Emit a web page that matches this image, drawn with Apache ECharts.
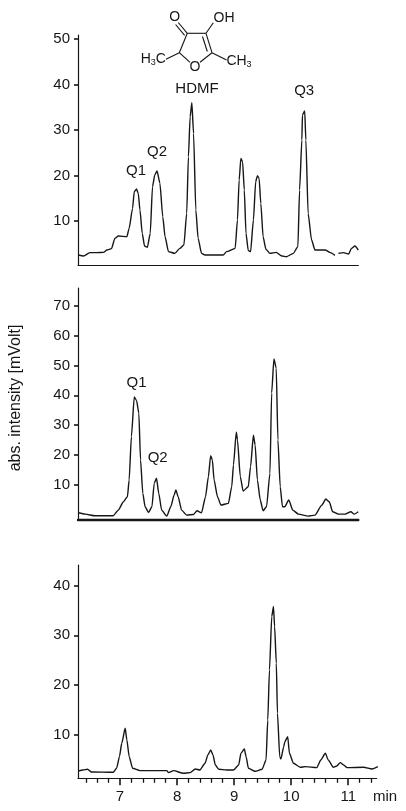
<!DOCTYPE html>
<html>
<head>
<meta charset="utf-8">
<script src="https://cdn.jsdelivr.net/npm/echarts@6/dist/echarts.min.js"></script>
<style>
    html, body { margin: 0; padding: 0; background: #fff; }
    #chart { width: 406px; height: 811px; }
</style>
</head>
<body>
<div id="chart"></div>
<script>
// chromatogram traces, [min, mVolt]
var traceTop = [
    [6.27,2.53],[6.36,2.31],[6.47,3.04],[6.59,3.04],[6.71,3.11],[6.77,3.63],[6.85,3.92],[6.91,6.19],[6.97,6.70],
    [7.12,6.56],[7.16,8.39],[7.22,12.78],[7.25,16.45],[7.29,17.03],[7.32,16.08],[7.35,12.42],[7.39,7.29],[7.43,4.51],
    [7.48,4.21],[7.53,7.29],[7.57,17.55],[7.61,20.11],[7.65,20.99],[7.70,18.28],[7.75,10.95],[7.79,6.56],[7.85,3.26],
    [7.96,2.89],[8.05,3.99],[8.12,4.73],[8.17,11.68],[8.20,24.14],[8.23,32.93],[8.26,36.0],[8.29,29.27],[8.33,12.42],
    [8.37,6.19],[8.43,2.89],[8.49,2.53],[8.81,2.53],[8.87,3.26],[9.02,3.99],[9.06,10.22],[9.09,19.01],[9.12,23.77],
    [9.15,23.04],[9.18,16.81],[9.21,7.29],[9.25,3.48],[9.29,3.26],[9.34,10.22],[9.38,18.64],[9.41,19.96],[9.44,19.38],
    [9.47,13.88],[9.51,6.56],[9.56,3.77],[9.63,2.89],[9.74,3.11],[9.84,2.31],[9.92,2.16],[10.04,2.89],[10.12,4.36],
    [10.15,16.81],[10.19,27.8],[10.20,33.3],[10.24,34.18],[10.26,27.8],[10.30,11.68],[10.36,5.82],[10.42,3.63],
    [10.60,3.63],[10.68,3.11],[10.77,2.45],[10.80,null],[10.83,2.89],[10.92,3.04],[11.01,2.75],[11.06,3.99],[11.12,4.51],[11.18,3.63]
];
var traceMiddle = [
    [6.27,0.72],[6.39,0.27],[6.56,-0.29],[6.88,-0.29],[6.97,1.61],[7.06,4.41],[7.13,6.09],[7.16,11.68],[7.20,26.22],
    [7.25,39.42],[7.29,38.3],[7.33,34.05],[7.36,18.39],[7.40,7.2],[7.44,2.73],[7.50,0.83],[7.56,2.73],[7.60,10.56],
    [7.64,12.24],[7.68,7.2],[7.73,1.61],[7.82,-0.4],[7.89,2.73],[7.95,6.64],[7.98,8.32],[8.02,6.09],[8.08,1.61],
    [8.17,-0.07],[8.29,0.16],[8.35,1.39],[8.43,0.72],[8.50,6.09],[8.55,12.8],[8.59,19.84],[8.62,18.39],[8.65,11.68],
    [8.71,6.09],[8.77,3.29],[8.90,3.85],[8.96,9.44],[8.99,16.71],[9.04,27.67],[9.06,25.1],[9.11,12.8],[9.16,7.99],
    [9.25,9.44],[9.29,16.15],[9.34,26.67],[9.37,23.42],[9.41,11.68],[9.46,4.97],[9.51,1.39],[9.57,2.73],[9.63,13.91],
    [9.66,40.76],[9.70,52.17],[9.74,49.15],[9.77,25.1],[9.81,9.44],[9.85,2.73],[9.89,2.73],[9.96,4.97],[10.03,1.61],
    [10.13,0.27],[10.30,-0.4],[10.42,-0.07],[10.54,3.29],[10.61,5.3],[10.67,4.41],[10.73,1.05],[10.83,0.27],
    [10.95,0.27],[11.05,1.05],[11.11,0.27],[11.18,1.05]
];
var traceBottom = [
    [6.27,2.77],[6.35,2.97],[6.43,3.11],[6.50,2.57],[6.88,2.5],[6.94,3.31],[6.99,5.65],[7.03,8.33],[7.09,11.34],
    [7.12,9.0],[7.16,5.65],[7.22,3.31],[7.35,2.84],[7.82,2.84],[7.85,2.44],[7.94,2.84],[8.11,2.3],[8.23,2.44],
    [8.32,3.17],[8.40,2.97],[8.49,4.31],[8.54,5.98],[8.59,6.99],[8.63,5.98],[8.67,3.98],[8.73,3.11],[8.87,2.97],
    [8.99,2.97],[9.08,3.98],[9.12,6.32],[9.18,7.19],[9.21,5.65],[9.25,3.31],[9.37,2.7],[9.49,3.11],[9.56,4.98],
    [9.59,13.01],[9.62,23.05],[9.66,33.76],[9.69,35.77],[9.71,31.75],[9.74,24.39],[9.76,14.35],[9.80,5.65],[9.82,5.18],
    [9.87,7.66],[9.89,8.66],[9.94,9.67],[9.97,6.32],[10.04,4.31],[10.16,3.51],[10.25,3.64],[10.45,3.44],[10.52,4.98],
    [10.60,6.32],[10.65,4.98],[10.74,3.51],[10.80,3.78],[10.86,4.44],[10.92,3.98],[10.98,3.44],[11.27,3.51],[11.42,3.17],[11.52,3.64]
];

var ticksTop = [10, 20, 30, 40, 50];
var ticksMiddle = [10, 20, 30, 40, 50, 60, 70];
var ticksBottom = [10, 20, 30, 40];
var timeLabels = [7, 8, 9, 10, 11];
var timeMinorTicks = [6.4, 6.6, 6.8, 7.2, 7.4, 7.6, 7.8, 8.2, 8.4, 8.6, 8.8, 9.2, 9.4, 9.6, 9.8,
    10.2, 10.4, 10.6, 10.8, 11.2, 11.4];

// peak names, placed at [min, mVolt]
var peaksTop = [["Q1", 7.28, 21.05], ["Q2", 7.65, 25.16], ["HDMF", 8.35, 39.16], ["Q3", 10.23, 38.57]];
var peaksMiddle = [["Q1", 7.29, 44.33], ["Q2", 7.66, 18.96]];

var INK = "#161616";
var FONT = '"Liberation Sans", Arial, sans-serif';

function valueAxis(gridIndex, min, max, ticks) {
    return {
        type: "value",
        gridIndex: gridIndex,
        position: "left",
        min: min,
        max: max,
        splitLine: { show: false },
        axisLine: { show: true, onZero: false, lineStyle: { color: INK, width: 1.2 } },
        axisTick: { show: false },
        axisLabel: { customValues: ticks, margin: 8, color: INK, fontSize: 15, fontFamily: FONT }
    };
}

function timeAxis(gridIndex, max, lineWidth) {
    return {
        type: "value",
        gridIndex: gridIndex,
        position: "bottom",
        min: 6.263,
        max: max,
        splitLine: { show: false },
        axisLine: { show: true, onZero: false, lineStyle: { color: INK, width: lineWidth } },
        axisTick: { show: false },
        axisLabel: { show: false }
    };
}

// extra axis on the same scale that only draws ticks
function tickAxis(base, ticks, length, width) {
    var axis = Object.assign({}, base);
    axis.axisLine = { show: false, onZero: false };
    axis.axisLabel = { show: false };
    axis.axisTick = { show: true, length: length, customValues: ticks, lineStyle: { color: INK, width: width } };
    return axis;
}

function peakLabels(peaks) {
    return peaks.map(function (p) {
        return { name: p[0], coord: [p[1], p[2]] };
    });
}

function trace(index, data, peaks) {
    return {
        type: "line",
        xAxisIndex: index,
        yAxisIndex: index,
        data: data,
        symbol: "none",
        silent: true,
        smooth: 0.2,
        smoothMonotone: "x",
        lineStyle: { color: INK, width: 1.4 },
        markPoint: {
            symbol: "circle",
            symbolSize: 0,
            silent: true,
            label: {
                show: true,
                position: "inside",
                formatter: "{b}",
                color: INK,
                fontSize: 15,
                fontFamily: FONT
            },
            data: peakLabels(peaks)
        }
    };
}

function bond(x1, y1, x2, y2) {
    return {
        type: "line",
        shape: { x1: x1, y1: y1, x2: x2, y2: y2 },
        style: { stroke: INK, lineWidth: 1.1 }
    };
}

function atom(x, y, text, size) {
    return {
        type: "text",
        x: x,
        y: y,
        style: {
            text: text,
            align: "center",
            verticalAlign: "middle",
            fill: INK,
            fontSize: size,
            fontFamily: FONT,
            rich: { s: { fontSize: 9, fontFamily: FONT, fill: INK, padding: [7, 0, 0, 0] } }
        }
    };
}

var timeBottom = timeAxis(2, 11.5, 1.2);
timeBottom.axisLabel = { show: true, customValues: timeLabels, margin: 11, color: INK, fontSize: 15, fontFamily: FONT };

var yTop = valueAxis(0, 0.33, 50.9, ticksTop);
var yMiddle = valueAxis(1, -1.7, 75.9, ticksMiddle);
var yBottom = valueAxis(2, 1.3, 44.1, ticksBottom);

var option = {
    animation: false,
    backgroundColor: "#fff",
    grid: [
        { left: 78, top: 35, width: 280.3, height: 230 },
        { left: 78, top: 288, width: 280.3, height: 232 },
        { left: 78, top: 565, width: 298.7, height: 213.3 }
    ],
    xAxis: [
        timeAxis(0, 11.18, 1.2),
        timeAxis(1, 11.18, 2.4),
        timeBottom,
        tickAxis(timeBottom, timeLabels, 7, 1.6),
        tickAxis(timeBottom, timeMinorTicks, 4.5, 1.3)
    ],
    yAxis: [
        yTop,
        yMiddle,
        yBottom,
        tickAxis(yTop, ticksTop, 4, 1.6),
        tickAxis(yMiddle, ticksMiddle, 4, 1.6),
        tickAxis(yBottom, ticksBottom, 4, 1.6)
    ],
    series: [
        trace(0, traceTop, peaksTop),
        trace(1, traceMiddle, peaksMiddle),
        trace(2, traceBottom, [])
    ],
    graphic: [
        // HDMF structure
        bond(187.3, 33.3, 206, 33.3),
        bond(206, 33.3, 212, 52.7),
        bond(202.5, 36.5, 207.3, 51.5),
        bond(179.3, 52.7, 187.3, 33.3),
        bond(179.3, 52.7, 190, 62.3),
        bond(212, 52.7, 200, 62.3),
        bond(187.3, 33.3, 178.3, 22.5),
        bond(184.6, 35.3, 175.6, 24.5),
        bond(206, 33.3, 213.3, 22.7),
        bond(212, 52.7, 226.5, 60),
        bond(179.3, 52.7, 166, 59.3),
        atom(174.7, 16.7, "O", 14),
        atom(224, 17.7, "OH", 14),
        atom(195, 66.7, "O", 14),
        atom(153.3, 59.5, "H{s|3}C", 14),
        atom(239, 61, "CH{s|3}", 14),
        // axis titles
        {
            type: "text",
            x: 16,
            y: 398,
            rotation: Math.PI / 2,
            style: {
                text: "abs. intensity [mVolt]",
                align: "center",
                verticalAlign: "middle",
                fill: INK,
                fontSize: 16,
                fontFamily: FONT
            }
        },
        atom(385, 797, "min", 15)
    ]
};

var chart = echarts.init(document.getElementById("chart"));
chart.setOption(option);
</script>
</body>
</html>
